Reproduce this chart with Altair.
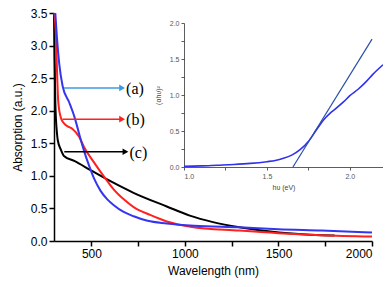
import altair as alt
import pandas as pd

# Main spectra (wavelength nm, absorption a.u.)
wl_a = [307, 316, 328, 346, 381, 411, 434, 461, 487, 514, 549, 585, 620, 670, 726, 800, 903, 1050, 1290, 1500, 1730, 2000]
ab_a = [3.5, 3.11, 2.72, 2.38, 2.13, 1.89, 1.65, 1.38, 1.16, 0.96, 0.77, 0.64, 0.55, 0.45, 0.38, 0.31, 0.27, 0.235, 0.21, 0.18, 0.16, 0.13]

wl_b = [302, 311, 316, 323, 337, 355, 373, 399, 434, 461, 513, 549, 585, 620, 673, 726, 814, 903, 1030, 1290, 1500, 1730, 2000]
ab_b = [3.5, 3.11, 2.62, 2.13, 1.89, 1.80, 1.76, 1.72, 1.60, 1.44, 1.21, 1.06, 0.92, 0.79, 0.64, 0.52, 0.40, 0.30, 0.22, 0.16, 0.12, 0.09, 0.07]

wl_c = [300, 303, 307, 316, 320, 337, 355, 408, 500, 607, 725, 903, 1026, 1150, 1291, 1503, 1731, 1800]
ab_c = [3.5, 2.8, 2.13, 1.65, 1.55, 1.40, 1.30, 1.23, 1.08, 0.91, 0.74, 0.53, 0.39, 0.29, 0.21, 0.13, 0.09, 0.085]

series_names = ["c", "b", "a"]
series_colors = ["#000000", "#ff2020", "#3535f0"]

# Arrows with labels
arrow_labels = ["(a)", "(b)", "(c)"]
arrow_y = [2.35, 1.87, 1.37]
arrow_x0 = [353, 346, 355]
arrow_x1 = [664, 664, 682]
arrow_colors = ["#3c9be0", "#ff2020", "#000000"]

# Inset: Tauc plot
inset_e = [1.0, 1.1, 1.2, 1.3, 1.4, 1.5, 1.55, 1.6, 1.65, 1.7, 1.75, 1.8, 1.84, 1.88, 1.92, 1.96, 2.0, 2.05, 2.1, 2.14, 2.2]
inset_s = [0.01, 0.015, 0.025, 0.035, 0.05, 0.074, 0.09, 0.12, 0.165, 0.24, 0.355, 0.52, 0.65, 0.745, 0.82, 0.90, 0.99, 1.08, 1.19, 1.29, 1.42]
tangent_e = [1.657, 2.134]
tangent_s = [0.0, 1.776]

lines = pd.concat([
    pd.DataFrame({"wl": wl_c, "v": ab_c, "s": "c"}),
    pd.DataFrame({"wl": wl_b, "v": ab_b, "s": "b"}),
    pd.DataFrame({"wl": wl_a, "v": ab_a, "s": "a"}),
])
arrows = pd.DataFrame({"wl": arrow_x0, "wl2": arrow_x1, "v": arrow_y,
                       "col": arrow_colors, "lab": arrow_labels})
heads = pd.DataFrame({"wl": arrow_x1, "v": arrow_y, "col": arrow_colors, "lab": arrow_labels})
inset_df = pd.DataFrame({"e": inset_e, "s": inset_s})
tan_df = pd.DataFrame({"e": tangent_e, "s": tangent_s})

W, H = 318, 228
xs = alt.Scale(domain=[300, 2000], nice=False)
ys = alt.Scale(domain=[0, 3.5], nice=False)

x_main = alt.X("wl:Q", scale=xs, title="Wavelength (nm)",
               axis=alt.Axis(values=[500, 750, 1000, 1250, 1500, 1750, 2000], format="d",
                             labelExpr="datum.value % 500 == 0 ? datum.label : ''",
                             titlePadding=6))
y_main = alt.Y("v:Q", scale=ys, title="Absorption (a.u.)",
               axis=alt.Axis(values=[0, 0.5, 1, 1.5, 2, 2.5, 3, 3.5], format=".1f",
                             titlePadding=6))

line_layer = alt.Chart(lines).mark_line(strokeWidth=2, interpolate="monotone").encode(
    x=x_main, y=y_main,
    color=alt.Color("s:N", scale=alt.Scale(domain=series_names, range=series_colors), legend=None),
)

rule_layer = alt.Chart(arrows).mark_rule(strokeWidth=1.5).encode(
    x=x_main, x2="wl2:Q", y=y_main,
    color=alt.Color("col:N", scale=None),
)
head_layer = alt.Chart(heads).mark_point(shape="triangle-right", filled=True, size=45, opacity=1).encode(
    x=x_main, y=y_main,
    color=alt.Color("col:N", scale=None),
)
text_layer = alt.Chart(heads).mark_text(align="left", baseline="middle", dx=4, dy=1,
                                        font="Liberation Serif", fontSize=16, color="black").encode(
    x=x_main, y=y_main,
    text="lab:N",
)

main = alt.layer(line_layer, rule_layer, head_layer, text_layer)

ixs = alt.Scale(domain=[1.0, 2.2], range=[130, 329], nice=False)
iys = alt.Scale(domain=[0, 2.0], range=[154, 10], nice=False)
inset_axis_style = dict(labelFontSize=7, labelColor="#555555", titleFontSize=7, titleColor="#444444",
                        domainWidth=0.8, tickWidth=0.8, tickSize=3, labelPadding=2,
                        domainColor="#333333", tickColor="#333333")

x_inset = alt.X("e:Q", scale=ixs, title="hυ (eV)",
                axis=alt.Axis(orient="bottom", offset=154 - H, values=[1.0, 1.25, 1.5, 1.75, 2.0],
                              format=".1f",
                              labelExpr="round(datum.value*2) == datum.value*2 ? datum.label : ''",
                              titlePadding=4, **inset_axis_style))
y_inset = alt.Y("s:Q", scale=iys, title="(αhυ)²",
                axis=alt.Axis(orient="left", offset=-130,
                              values=[0, 0.25, 0.5, 0.75, 1.0, 1.25, 1.5, 1.75, 2.0], format=".1f",
                              labelExpr="round(datum.value*2) == datum.value*2 ? datum.label : ''",
                              titlePadding=8, **inset_axis_style))

inset_curve = alt.Chart(inset_df).mark_line(color="#3030ee", strokeWidth=1.6, interpolate="monotone").encode(
    x=x_inset, y=y_inset,
)
inset_tan = alt.Chart(tan_df).mark_line(color="#2a4fa8", strokeWidth=1.2).encode(
    x=x_inset, y=y_inset,
)
inset = alt.layer(inset_curve, inset_tan)

chart = alt.layer(main, inset).resolve_scale(x="independent", y="independent").properties(
    width=W, height=H,
    autosize=alt.AutoSizeParams(type="none"),
    padding={"left": 46, "top": 5, "right": 11, "bottom": 38},
).configure_view(stroke=None).configure_axis(
    grid=False, labelFont="Liberation Sans", titleFont="Liberation Sans",
    labelFontSize=12, titleFontSize=12, titleFontWeight="normal",
    labelColor="black", titleColor="black",
    domainColor="black", tickColor="black", domainWidth=1.5, tickWidth=1.5, tickSize=5,
)

chart.save("out.html", embed_options={"renderer": "svg", "actions": False})
